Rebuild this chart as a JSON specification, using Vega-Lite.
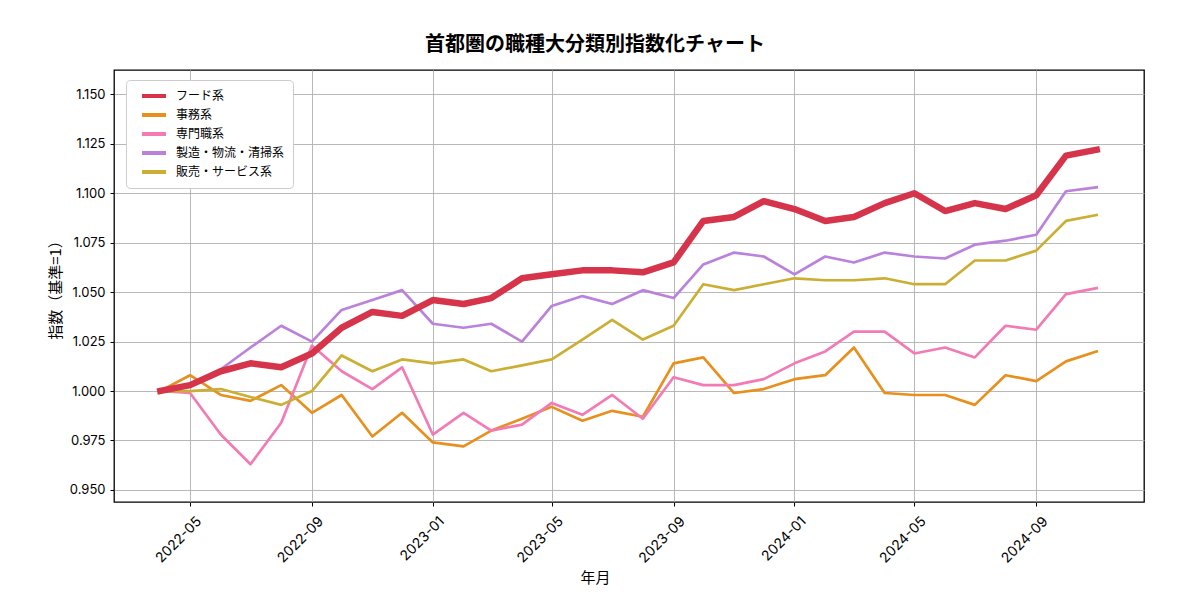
{
  "$schema": "https://vega.github.io/schema/vega-lite/v6.json",
  "autosize": {"type": "none"},
  "width": 1030,
  "height": 432,
  "padding": {"left": 114, "top": 70, "right": 56, "bottom": 98},
  "background": "white",
  "title": {
    "text": "首都圏の職種大分類別指数化チャート",
    "font": "Noto Sans CJK JP",
    "fontSize": 20,
    "fontWeight": "bold",
    "color": "black",
    "anchor": "middle",
    "dx": -34,
    "offset": 15
  },
  "data": {
    "values": [
      {"date": "2022-04-01", "series": "フード系", "value": 1.000},
      {"date": "2022-05-01", "series": "フード系", "value": 1.003},
      {"date": "2022-06-01", "series": "フード系", "value": 1.010},
      {"date": "2022-07-01", "series": "フード系", "value": 1.014},
      {"date": "2022-08-01", "series": "フード系", "value": 1.012},
      {"date": "2022-09-01", "series": "フード系", "value": 1.019},
      {"date": "2022-10-01", "series": "フード系", "value": 1.032},
      {"date": "2022-11-01", "series": "フード系", "value": 1.040},
      {"date": "2022-12-01", "series": "フード系", "value": 1.038},
      {"date": "2023-01-01", "series": "フード系", "value": 1.046},
      {"date": "2023-02-01", "series": "フード系", "value": 1.044},
      {"date": "2023-03-01", "series": "フード系", "value": 1.047},
      {"date": "2023-04-01", "series": "フード系", "value": 1.057},
      {"date": "2023-05-01", "series": "フード系", "value": 1.059},
      {"date": "2023-06-01", "series": "フード系", "value": 1.061},
      {"date": "2023-07-01", "series": "フード系", "value": 1.061},
      {"date": "2023-08-01", "series": "フード系", "value": 1.060},
      {"date": "2023-09-01", "series": "フード系", "value": 1.065},
      {"date": "2023-10-01", "series": "フード系", "value": 1.086},
      {"date": "2023-11-01", "series": "フード系", "value": 1.088},
      {"date": "2023-12-01", "series": "フード系", "value": 1.096},
      {"date": "2024-01-01", "series": "フード系", "value": 1.092},
      {"date": "2024-02-01", "series": "フード系", "value": 1.086},
      {"date": "2024-03-01", "series": "フード系", "value": 1.088},
      {"date": "2024-04-01", "series": "フード系", "value": 1.095},
      {"date": "2024-05-01", "series": "フード系", "value": 1.100},
      {"date": "2024-06-01", "series": "フード系", "value": 1.091},
      {"date": "2024-07-01", "series": "フード系", "value": 1.095},
      {"date": "2024-08-01", "series": "フード系", "value": 1.092},
      {"date": "2024-09-01", "series": "フード系", "value": 1.099},
      {"date": "2024-10-01", "series": "フード系", "value": 1.119},
      {"date": "2024-11-01", "series": "フード系", "value": 1.122},

      {"date": "2022-04-01", "series": "事務系", "value": 1.000},
      {"date": "2022-05-01", "series": "事務系", "value": 1.008},
      {"date": "2022-06-01", "series": "事務系", "value": 0.998},
      {"date": "2022-07-01", "series": "事務系", "value": 0.995},
      {"date": "2022-08-01", "series": "事務系", "value": 1.003},
      {"date": "2022-09-01", "series": "事務系", "value": 0.989},
      {"date": "2022-10-01", "series": "事務系", "value": 0.998},
      {"date": "2022-11-01", "series": "事務系", "value": 0.977},
      {"date": "2022-12-01", "series": "事務系", "value": 0.989},
      {"date": "2023-01-01", "series": "事務系", "value": 0.974},
      {"date": "2023-02-01", "series": "事務系", "value": 0.972},
      {"date": "2023-03-01", "series": "事務系", "value": 0.980},
      {"date": "2023-04-01", "series": "事務系", "value": 0.986},
      {"date": "2023-05-01", "series": "事務系", "value": 0.992},
      {"date": "2023-06-01", "series": "事務系", "value": 0.985},
      {"date": "2023-07-01", "series": "事務系", "value": 0.990},
      {"date": "2023-08-01", "series": "事務系", "value": 0.987},
      {"date": "2023-09-01", "series": "事務系", "value": 1.014},
      {"date": "2023-10-01", "series": "事務系", "value": 1.017},
      {"date": "2023-11-01", "series": "事務系", "value": 0.999},
      {"date": "2023-12-01", "series": "事務系", "value": 1.001},
      {"date": "2024-01-01", "series": "事務系", "value": 1.006},
      {"date": "2024-02-01", "series": "事務系", "value": 1.008},
      {"date": "2024-03-01", "series": "事務系", "value": 1.022},
      {"date": "2024-04-01", "series": "事務系", "value": 0.999},
      {"date": "2024-05-01", "series": "事務系", "value": 0.998},
      {"date": "2024-06-01", "series": "事務系", "value": 0.998},
      {"date": "2024-07-01", "series": "事務系", "value": 0.993},
      {"date": "2024-08-01", "series": "事務系", "value": 1.008},
      {"date": "2024-09-01", "series": "事務系", "value": 1.005},
      {"date": "2024-10-01", "series": "事務系", "value": 1.015},
      {"date": "2024-11-01", "series": "事務系", "value": 1.020},

      {"date": "2022-04-01", "series": "専門職系", "value": 1.000},
      {"date": "2022-05-01", "series": "専門職系", "value": 0.999},
      {"date": "2022-06-01", "series": "専門職系", "value": 0.978},
      {"date": "2022-07-01", "series": "専門職系", "value": 0.963},
      {"date": "2022-08-01", "series": "専門職系", "value": 0.984},
      {"date": "2022-09-01", "series": "専門職系", "value": 1.023},
      {"date": "2022-10-01", "series": "専門職系", "value": 1.010},
      {"date": "2022-11-01", "series": "専門職系", "value": 1.001},
      {"date": "2022-12-01", "series": "専門職系", "value": 1.012},
      {"date": "2023-01-01", "series": "専門職系", "value": 0.978},
      {"date": "2023-02-01", "series": "専門職系", "value": 0.989},
      {"date": "2023-03-01", "series": "専門職系", "value": 0.980},
      {"date": "2023-04-01", "series": "専門職系", "value": 0.983},
      {"date": "2023-05-01", "series": "専門職系", "value": 0.994},
      {"date": "2023-06-01", "series": "専門職系", "value": 0.988},
      {"date": "2023-07-01", "series": "専門職系", "value": 0.998},
      {"date": "2023-08-01", "series": "専門職系", "value": 0.986},
      {"date": "2023-09-01", "series": "専門職系", "value": 1.007},
      {"date": "2023-10-01", "series": "専門職系", "value": 1.003},
      {"date": "2023-11-01", "series": "専門職系", "value": 1.003},
      {"date": "2023-12-01", "series": "専門職系", "value": 1.006},
      {"date": "2024-01-01", "series": "専門職系", "value": 1.014},
      {"date": "2024-02-01", "series": "専門職系", "value": 1.020},
      {"date": "2024-03-01", "series": "専門職系", "value": 1.030},
      {"date": "2024-04-01", "series": "専門職系", "value": 1.030},
      {"date": "2024-05-01", "series": "専門職系", "value": 1.019},
      {"date": "2024-06-01", "series": "専門職系", "value": 1.022},
      {"date": "2024-07-01", "series": "専門職系", "value": 1.017},
      {"date": "2024-08-01", "series": "専門職系", "value": 1.033},
      {"date": "2024-09-01", "series": "専門職系", "value": 1.031},
      {"date": "2024-10-01", "series": "専門職系", "value": 1.049},
      {"date": "2024-11-01", "series": "専門職系", "value": 1.052},

      {"date": "2022-04-01", "series": "製造・物流・清掃系", "value": 1.000},
      {"date": "2022-05-01", "series": "製造・物流・清掃系", "value": 1.003},
      {"date": "2022-06-01", "series": "製造・物流・清掃系", "value": 1.011},
      {"date": "2022-07-01", "series": "製造・物流・清掃系", "value": 1.022},
      {"date": "2022-08-01", "series": "製造・物流・清掃系", "value": 1.033},
      {"date": "2022-09-01", "series": "製造・物流・清掃系", "value": 1.025},
      {"date": "2022-10-01", "series": "製造・物流・清掃系", "value": 1.041},
      {"date": "2022-11-01", "series": "製造・物流・清掃系", "value": 1.046},
      {"date": "2022-12-01", "series": "製造・物流・清掃系", "value": 1.051},
      {"date": "2023-01-01", "series": "製造・物流・清掃系", "value": 1.034},
      {"date": "2023-02-01", "series": "製造・物流・清掃系", "value": 1.032},
      {"date": "2023-03-01", "series": "製造・物流・清掃系", "value": 1.034},
      {"date": "2023-04-01", "series": "製造・物流・清掃系", "value": 1.025},
      {"date": "2023-05-01", "series": "製造・物流・清掃系", "value": 1.043},
      {"date": "2023-06-01", "series": "製造・物流・清掃系", "value": 1.048},
      {"date": "2023-07-01", "series": "製造・物流・清掃系", "value": 1.044},
      {"date": "2023-08-01", "series": "製造・物流・清掃系", "value": 1.051},
      {"date": "2023-09-01", "series": "製造・物流・清掃系", "value": 1.047},
      {"date": "2023-10-01", "series": "製造・物流・清掃系", "value": 1.064},
      {"date": "2023-11-01", "series": "製造・物流・清掃系", "value": 1.070},
      {"date": "2023-12-01", "series": "製造・物流・清掃系", "value": 1.068},
      {"date": "2024-01-01", "series": "製造・物流・清掃系", "value": 1.059},
      {"date": "2024-02-01", "series": "製造・物流・清掃系", "value": 1.068},
      {"date": "2024-03-01", "series": "製造・物流・清掃系", "value": 1.065},
      {"date": "2024-04-01", "series": "製造・物流・清掃系", "value": 1.070},
      {"date": "2024-05-01", "series": "製造・物流・清掃系", "value": 1.068},
      {"date": "2024-06-01", "series": "製造・物流・清掃系", "value": 1.067},
      {"date": "2024-07-01", "series": "製造・物流・清掃系", "value": 1.074},
      {"date": "2024-08-01", "series": "製造・物流・清掃系", "value": 1.076},
      {"date": "2024-09-01", "series": "製造・物流・清掃系", "value": 1.079},
      {"date": "2024-10-01", "series": "製造・物流・清掃系", "value": 1.101},
      {"date": "2024-11-01", "series": "製造・物流・清掃系", "value": 1.103},

      {"date": "2022-04-01", "series": "販売・サービス系", "value": 1.000},
      {"date": "2022-05-01", "series": "販売・サービス系", "value": 1.000},
      {"date": "2022-06-01", "series": "販売・サービス系", "value": 1.001},
      {"date": "2022-07-01", "series": "販売・サービス系", "value": 0.997},
      {"date": "2022-08-01", "series": "販売・サービス系", "value": 0.993},
      {"date": "2022-09-01", "series": "販売・サービス系", "value": 1.000},
      {"date": "2022-10-01", "series": "販売・サービス系", "value": 1.018},
      {"date": "2022-11-01", "series": "販売・サービス系", "value": 1.010},
      {"date": "2022-12-01", "series": "販売・サービス系", "value": 1.016},
      {"date": "2023-01-01", "series": "販売・サービス系", "value": 1.014},
      {"date": "2023-02-01", "series": "販売・サービス系", "value": 1.016},
      {"date": "2023-03-01", "series": "販売・サービス系", "value": 1.010},
      {"date": "2023-04-01", "series": "販売・サービス系", "value": 1.013},
      {"date": "2023-05-01", "series": "販売・サービス系", "value": 1.016},
      {"date": "2023-06-01", "series": "販売・サービス系", "value": 1.026},
      {"date": "2023-07-01", "series": "販売・サービス系", "value": 1.036},
      {"date": "2023-08-01", "series": "販売・サービス系", "value": 1.026},
      {"date": "2023-09-01", "series": "販売・サービス系", "value": 1.033},
      {"date": "2023-10-01", "series": "販売・サービス系", "value": 1.054},
      {"date": "2023-11-01", "series": "販売・サービス系", "value": 1.051},
      {"date": "2023-12-01", "series": "販売・サービス系", "value": 1.054},
      {"date": "2024-01-01", "series": "販売・サービス系", "value": 1.057},
      {"date": "2024-02-01", "series": "販売・サービス系", "value": 1.056},
      {"date": "2024-03-01", "series": "販売・サービス系", "value": 1.056},
      {"date": "2024-04-01", "series": "販売・サービス系", "value": 1.057},
      {"date": "2024-05-01", "series": "販売・サービス系", "value": 1.054},
      {"date": "2024-06-01", "series": "販売・サービス系", "value": 1.054},
      {"date": "2024-07-01", "series": "販売・サービス系", "value": 1.066},
      {"date": "2024-08-01", "series": "販売・サービス系", "value": 1.066},
      {"date": "2024-09-01", "series": "販売・サービス系", "value": 1.071},
      {"date": "2024-10-01", "series": "販売・サービス系", "value": 1.086},
      {"date": "2024-11-01", "series": "販売・サービス系", "value": 1.089}
    ]
  },
  "encoding": {
    "x": {
      "field": "date",
      "type": "temporal",
      "title": "年月",
      "scale": {
        "type": "utc",
        "domain": [
          {"year": 2022, "month": 2, "date": 13, "hours": 6, "utc": true},
          {"year": 2024, "month": 12, "date": 18, "hours": 18, "utc": true}
        ]
      },
      "axis": {
        "values": [
          {"year": 2022, "month": 5, "date": 1, "utc": true},
          {"year": 2022, "month": 9, "date": 1, "utc": true},
          {"year": 2023, "month": 1, "date": 1, "utc": true},
          {"year": 2023, "month": 5, "date": 1, "utc": true},
          {"year": 2023, "month": 9, "date": 1, "utc": true},
          {"year": 2024, "month": 1, "date": 1, "utc": true},
          {"year": 2024, "month": 5, "date": 1, "utc": true},
          {"year": 2024, "month": 9, "date": 1, "utc": true}
        ],
        "format": "%Y-%m",
        "labelAngle": -45,
        "labelFontSize": 14,
        "labelOffset": 4,
        "labelPadding": 8,
        "titleX": 481,
        "titleY": 75,
        "titleBaseline": "middle"
      }
    },
    "y": {
      "field": "value",
      "type": "quantitative",
      "title": "指数（基準=1）",
      "scale": {"domain": [0.9439, 1.1623], "zero": false, "nice": false},
      "axis": {
        "values": [0.95, 0.975, 1.0, 1.025, 1.05, 1.075, 1.1, 1.125, 1.15],
        "format": ".3f",
        "titleX": -59,
        "titleY": 216,
        "titleBaseline": "middle",
        "titleAngle": -90
      }
    },
    "color": {
      "field": "series",
      "type": "nominal",
      "scale": {
        "domain": ["フード系", "事務系", "専門職系", "製造・物流・清掃系", "販売・サービス系"],
        "range": ["#D6344A", "#E8901E", "#F27BB5", "#BB82DB", "#CBAF34"]
      },
      "legend": {
        "title": null,
        "orient": "none",
        "legendX": 12,
        "legendY": 10,
        "symbolType": "M0,0L4,0",
        "symbolSize": 144,
        "symbolStrokeWidth": 4,
        "labelOffset": 26,
        "labelFont": "Noto Sans CJK JP",
        "labelFontSize": 12,
        "labelColor": "black",
        "labelLimit": 300,
        "rowPadding": 3,
        "padding": 8,
        "strokeColor": "#cccccc",
        "fillColor": "white",
        "cornerRadius": 4
      }
    }
  },
  "layer": [
    {
      "transform": [{"filter": "datum.series !== 'フード系'"}],
      "mark": {"type": "line", "strokeWidth": 2.7, "strokeJoin": "round", "strokeCap": "square"}
    },
    {
      "transform": [{"filter": "datum.series === 'フード系'"}],
      "mark": {"type": "line", "strokeWidth": 6.5, "strokeJoin": "round", "strokeCap": "square"}
    }
  ],
  "config": {
    "view": {"stroke": "black", "strokeWidth": 1.3},
    "axis": {
      "domain": false,
      "grid": true,
      "gridColor": "#b0b0b0",
      "gridWidth": 0.9,
      "tickColor": "black",
      "tickSize": 4,
      "tickWidth": 1,
      "labelFont": "Inter",
      "labelFontSize": 13,
      "labelColor": "black",
      "labelPadding": 5,
      "titleFont": "Noto Sans CJK JP",
      "titleFontSize": 15,
      "titleFontWeight": "normal",
      "titleColor": "black"
    }
  }
}
